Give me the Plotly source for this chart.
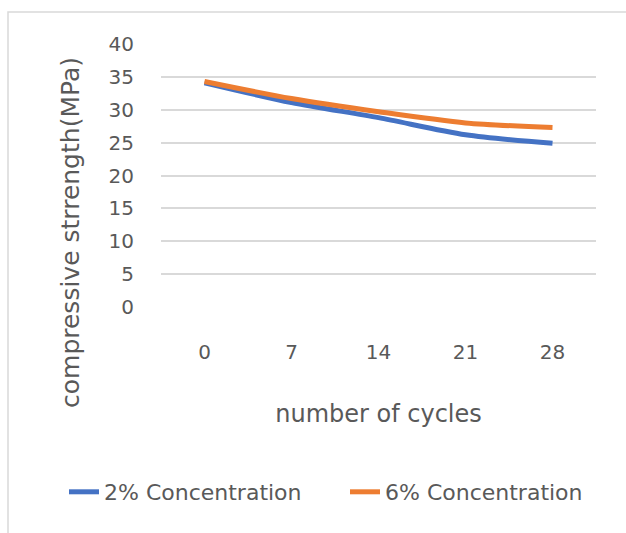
import plotly.graph_objects as go

cycles = ["0", "7", "14", "21", "28"]
conc_2 = [34.1, 31.1, 28.8, 26.2, 24.9]
conc_6 = [34.3, 31.7, 29.7, 28.0, 27.3]
series_names = ["2% Concentration", "6% Concentration"]
y_ticks = [0, 5, 10, 15, 20, 25, 30, 35, 40]

W, H = 626, 533
L, R, T, B = 161, 30, 44, 226
pw, ph = W - L - R, H - T - B

FONT = "DejaVu Sans"
GREY = "#595959"

fig = go.Figure()
fig.add_trace(go.Scatter(x=cycles, y=conc_2, name=series_names[0], mode="lines",
                         line=dict(color="#4472C4", width=5, shape="spline", smoothing=0.8)))
fig.add_trace(go.Scatter(x=cycles, y=conc_6, name=series_names[1], mode="lines",
                         line=dict(color="#ED7D31", width=5, shape="spline", smoothing=0.8)))

def px_x(p):
    return (p - L) / pw

def px_y(p):
    return (H - B - p) / ph

fig.add_shape(type="rect", xref="paper", yref="paper",
              x0=px_x(8), x1=px_x(660), y0=px_y(560), y1=px_y(12),
              line=dict(color="#d9d9d9", width=1.5), fillcolor="rgba(0,0,0,0)", layer="below")

fig.add_annotation(text="compressive strrength(MPa)", xref="paper", yref="paper",
                   x=px_x(70), y=px_y(233), xanchor="center", yanchor="middle",
                   textangle=-90, showarrow=False,
                   font=dict(family=FONT, size=25, color=GREY))

fig.update_layout(
    width=W, height=H,
    margin=dict(l=L, r=R, t=T, b=B, pad=0),
    paper_bgcolor="white", plot_bgcolor="white",
    font=dict(family=FONT, size=21, color=GREY),
    showlegend=True,
    legend=dict(orientation="h", xref="paper", yref="paper",
                x=px_x(86), xanchor="left", y=px_y(492), yanchor="middle",
                font=dict(family=FONT, size=22, color=GREY), itemwidth=30, tracegroupgap=0,
                entrywidth=236, entrywidthmode="pixels",
                bgcolor="rgba(0,0,0,0)"),
    xaxis=dict(type="category", range=[-0.5, 4.5], showgrid=False, zeroline=False, showline=False, ticks="",
               tickfont=dict(family=FONT, size=20, color=GREY), ticklabelstandoff=31,
               title=dict(text="number of cycles", font=dict(family=FONT, size=24, color=GREY), standoff=42)),
    yaxis=dict(range=[0, 40], tickvals=y_ticks, showgrid=True, gridcolor="#d9d9d9", gridwidth=1.5,
               zeroline=False, showline=False, ticks="",
               tickfont=dict(family=FONT, size=20, color=GREY), ticklabelstandoff=26),
)

fig.write_html("out.html")
